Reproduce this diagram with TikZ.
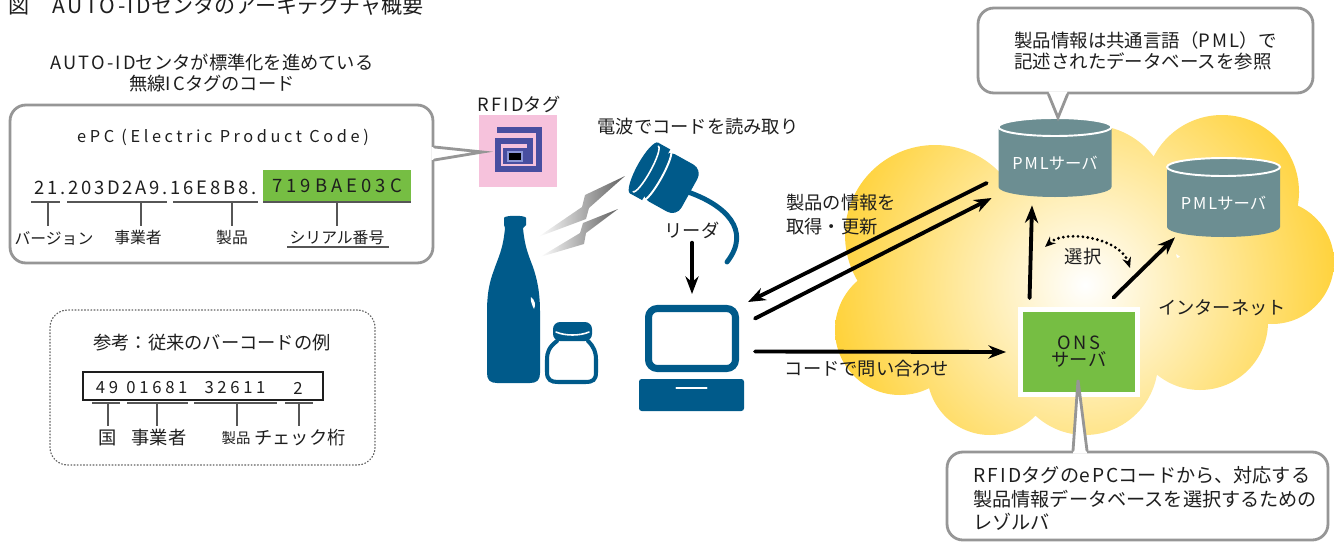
\documentclass[tikz,border=0pt]{standalone}
\usepackage{fontspec}
\setmainfont{Noto Sans CJK JP}
\usetikzlibrary{arrows.meta,calc,positioning}
\definecolor{devblue}{RGB}{0,90,138}
\definecolor{tagpink}{RGB}{246,194,220}
\definecolor{tagviolet}{RGB}{72,78,160}
\definecolor{chipedge}{RGB}{140,150,215}
\definecolor{serialgreen}{RGB}{118,190,67}
\definecolor{pmlteal}{RGB}{108,142,146}
\definecolor{netgold}{RGB}{255,197,0}
\definecolor{balloongray}{RGB}{150,150,150}
\definecolor{inkdark}{RGB}{30,30,30}
\newcommand{\lat}[1]{{\addfontfeature{LetterSpace=12}#1}}
\newcommand{\code}[1]{{\addfontfeature{LetterSpace=22}#1}}

\begin{document}
\begin{tikzpicture}[x=0.02cm,y=-0.02cm,>=Stealth,line cap=round,
  lbl/.style={font=\fontsize{10.4}{12.5}\selectfont,text=inkdark,inner sep=0pt},
  minor/.style={font=\fontsize{9}{11}\selectfont,text=inkdark,inner sep=0pt},
  balloon/.style={draw=balloongray,line width=1.6pt,fill=white,rounded corners=9pt,inner sep=0pt},
  leader/.style={draw=inkdark!75,line width=0.7pt,line cap=butt},
  flow/.style={draw=black,line width=2.2pt,-{Stealth[length=10pt,width=7.5pt]}},
  pmlfont/.style={text=white,inner sep=0pt,font=\fontsize{9.3}{11}\selectfont},
  zap/.style={left color=white,right color=black!62}]
\clip (0,0) rectangle (1334,541);

\begin{scope}
 \clip (935,235) circle (90) (900,330) circle (65) (990,372) circle (63)
  (1085,362) circle (73) (1200,322) circle (68) (1272,262) circle (62)
  (1222,192) circle (77) (1090,205) circle (80) (1060,285) circle (120);
 \shade[inner color=white,outer color=netgold] (1085,285) circle (330);
\end{scope}

\node[anchor=base west,font=\fontsize{12}{14}\selectfont,text=inkdark,inner sep=0pt]
  (title) at (8,13) {図\hspace{1.1em}\lat{AUTO-ID}センタのアーキテクチャ概要};
\node[lbl,align=center] (codehead) at (212,73)
  {\lat{AUTO-ID}センタが標準化を進めている\\無線\lat{IC}タグのコード};

\node[balloon,minimum width=8.46cm,minimum height=3.16cm] (epcbox) at (221.5,184) {};
\node[fill=tagpink,minimum width=1.56cm,minimum height=1.44cm,inner sep=0pt] (tag) at (518,151) {};
\node[lbl] (taglbl) at (519,104) {\lat{RFID}タグ};
\draw[tagviolet,line width=3.4pt,line cap=butt,line join=miter]
  (497,130) -- (539,130) -- (539,169) -- (498,169) -- (498,141) -- (530,141) -- (530,158);
\fill[tagviolet] (503,148) rectangle (533,164);
\filldraw[fill=black,draw=chipedge,line width=0.8pt] (508,152) rectangle (522,161);
\fill[white] ($(epcbox.east)+(-3,-37)$) -- ($(tag.west)+(4,1)$) -- ($(epcbox.east)+(-3,-24)$) -- cycle;
\draw[balloongray,line width=1.6pt,line join=miter]
  ($(epcbox.east)+(0,-37)$) -- ($(tag.west)+(4,1)$) -- ($(epcbox.east)+(0,-24)$);

\node[minor,font=\fontsize{9.3}{11}\selectfont] (epctitle) at (223,137) {\code{ePC (Electric Product Code)}};
\node[lbl,font=\fontsize{10.5}{12}\selectfont] (epcnum) at (145.5,188)
  {{\addfontfeature{LetterSpace=15}21.203D2A9.16E8B8.}};
\node[fill=serialgreen,minimum width=2.96cm,minimum height=0.62cm,inner sep=0pt,
  font=\fontsize{10.5}{12}\selectfont,text=inkdark] (serial) at (337,185.5) {\code{719BAE03C}};
\foreach \a/\b in {31/60,67/167,173/258,263/411} \draw[leader] (\a,202) -- (\b,202);
\foreach \t in {48,141,232,337} \draw[leader] (\t,202) -- (\t,226);
\node[minor] (verlbl) at (54,238) {バージョン};
\node[minor] (bizlbl) at (138,238) {事業者};
\node[minor] (prodlbl) at (232,238) {製品};
\node[minor] (seriallbl) at (337,238) {シリアル番号};
\draw[leader] (287,247) -- (389,247);

\node[draw=inkdark!70,line width=0.7pt,rounded corners=10pt,dash pattern=on 0.5pt off 1.3pt,
  minimum width=6.5cm,minimum height=3.1cm] (legacybox) at (212.5,387.5) {};
\node[lbl] (legacyhead) at (212,343) {参考：従来のバーコードの例};
\node[draw=inkdark,line width=0.7pt,minimum width=4.8cm,minimum height=0.56cm] (jan) at (203,386) {};
\foreach \x/\d [count=\i] in {107/49,157/01681,235/32611,298/2}
  \node[lbl,font=\fontsize{9.5}{11}\selectfont] (jan\i) at (\x,388) {\code{\d}};
\foreach \a/\b in {92/120,127/188,194/277,285/313} \draw[leader] (\a,403) -- (\b,403);
\foreach \t in {108,157,237,299} \draw[leader] (\t,403) -- (\t,426);
\node[lbl] (countrylbl) at (108,438) {国};
\node[lbl] (makerlbl) at (159,438) {事業者};
\node[lbl,font=\fontsize{8.2}{10}\selectfont] (itemlbl) at (236,438) {製品};
\node[lbl] (checklbl) at (300,438) {チェック桁};

\fill[devblue] (504,218) .. controls (504,215) and (526,215) .. (526,218) -- (526,225) -- (523,228)
  .. controls (525,250) and (530,258) .. (534,270) .. controls (538,283) and (540,295) .. (540,312)
  -- (540,373) .. controls (540,380) and (537,383) .. (530,383) -- (497,383)
  .. controls (490,383) and (487,380) .. (487,373) -- (487,312)
  .. controls (487,295) and (489,283) .. (494,270) .. controls (498,258) and (503,250) .. (505,228)
  -- (504,225) -- cycle;
\fill[white] (531,297) .. controls (535,300) and (536,305) .. (534,309)
  .. controls (532,305) and (530,300) .. (531,297);
\draw[devblue,line width=2.3pt,fill=white] (557,341) .. controls (549,347) and (547,352) .. (547,360)
  -- (547,372) .. controls (547,380) and (551,382) .. (558,382) -- (585,382)
  .. controls (593,382) and (596,380) .. (596,372) -- (596,360)
  .. controls (596,352) and (594,347) .. (588,341);
\fill[devblue,rounded corners=4pt] (553,322) rectangle (592,341);
\draw[white,line width=0.9pt] (556,332) .. controls (565,336) and (580,336) .. (589,332);

\node[lbl] (scanlbl) at (698,127) {電波でコードを読み取り};
\shade[zap] (538,237) -- (582,207) -- (585,195) -- (625,176) -- (589,208) -- (586,219) -- cycle;
\shade[zap] (540,257) -- (580,233) -- (583,223) -- (618,209) -- (586,233) -- (584,244) -- cycle;
\begin{scope}[shift={(644,168)},rotate=-29]
 \fill[devblue,rounded corners=6pt] (10,-27) rectangle (52,27);
 \fill[devblue] (0,-29) rectangle (14,29);
 \fill[devblue] (0,0) ellipse [x radius=7,y radius=29];
 \draw[white,line width=0.9pt] (2,-26) arc[start angle=-90,end angle=90,x radius=5,y radius=26];
 \draw[white,line width=1.1pt] (15,-28) arc[start angle=-90,end angle=90,x radius=5,y radius=28];
\end{scope}
\draw[devblue,line width=2.8pt] (688,192) .. controls (725,205) and (752,230) .. (727,262);

\node[lbl] (readerlbl) at (692,230) {リーダ};
\node[draw=devblue,line width=4pt,fill=white,rounded corners=5pt,minimum width=1.74cm,
  minimum height=1.2cm,inner sep=0pt] (monitor) at (692,338.5) {};
\node[fill=devblue,rounded corners=1.5pt,minimum width=2.1cm,minimum height=0.64cm,
  inner sep=0pt] (pcbase) at (691.5,395) {};
\draw[white,line width=1.3pt] ($(pcbase.center)+(-15,-7)$) -- ($(pcbase.center)+(15,-7)$);
\draw[flow] ($(readerlbl.south)+(0,4)$) -- ($(monitor.north)+(0,-11)$);

\foreach \srv/\cx/\cy in {pml1/1055/158,pml2/1223.5/198}{
  \fill[pmlteal] (\cx-56.5,\cy-31) -- (\cx-56.5,\cy+29)
    arc[start angle=180,end angle=0,x radius=56.5,y radius=10] -- (\cx+56.5,\cy-31) -- cycle;
  \draw[white,line width=1.1pt,fill=pmlteal] (\cx,\cy-31) ellipse [x radius=56.5,y radius=9];
  \node[minimum width=2.26cm,minimum height=1.6cm,inner sep=0pt,
    label={[pmlfont,yshift=-2.8pt]center:\lat{PML}サーバ}] (\srv) at (\cx,\cy) {};
}
\node[fill=serialgreen,draw=white,line width=2.8pt,minimum width=2.34cm,minimum height=1.7cm,
  inner sep=0pt,align=center,font=\fontsize{10.4}{9.6}\selectfont,text=inkdark]
  (ons) at (1079,352) {\lat{ONS}\\サーバ};

\node[lbl] (netlbl) at (1222,308) {インターネット};
\node[lbl] (sellbl) at (1083,257) {選択};
\node[lbl,anchor=west,align=left,font=\fontsize{10.4}{13.6}\selectfont] (synclbl) at (786,215)
  {製品の情報を\\取得・更新};
\node[lbl] (querylbl) at (867,369) {コードで問い合わせ};

\draw[flow] ($(pml1.west)+(-11.5,25)$) -- ($(monitor.north east)+(9,-3)$);
\draw[flow] ($(monitor.east)+(16,-20)$) -- ($(pml1.west)+(-6.5,40)$);
\draw[flow] ($(monitor.east)+(16,13)$) -- ($(ons.west)+(-12,0)$);
\draw[flow] ($(ons.north west)+(11.5,-9)$) -- ($(pml1.south)+(-23,7)$);
\draw[flow] ($(ons.north east)+(-26.5,-9.5)$) -- ($(pml2.south)+(-48.5,-1)$);
\draw[line width=1.8pt,dash pattern=on 0pt off 2.8pt,
  {Stealth[length=6pt,width=5pt]}-{Stealth[length=6pt,width=5pt]}]
  ($(sellbl)+(-38,-10)$) .. controls +(20,-18) and +(-10,-30) .. ($(sellbl)+(47,11)$);

\node[balloon,minimum width=6.7cm,minimum height=1.7cm,align=left,
  font=\fontsize{10.5}{12}\selectfont,text=inkdark] (pmlnote) at (1145.5,50.5)
  {製品情報は共通言語（\lat{PML}）で\\記述されたデータベースを参照};
\fill[white] ($(pmlnote.south)+(-97,-3)$) -- ($(pml1.north)+(3,0)$) -- ($(pmlnote.south)+(-78,-3)$) -- cycle;
\draw[balloongray,line width=1.6pt,line join=miter]
  ($(pmlnote.south)+(-97,0)$) -- ($(pml1.north)+(3,0)$) -- ($(pmlnote.south)+(-78,0)$);

\node[balloon,minimum width=7.62cm,minimum height=1.76cm] (onsnote) at (1137.5,496) {};
\node[lbl,anchor=west,align=left,font=\fontsize{10.9}{13.2}\selectfont] (onsnotetext) at (973,498.5)
  {\lat{RFID}タグの\lat{ePC}コードから、対応する\\製品情報データベースを選択するための\\レゾルバ};
\fill[white] ($(onsnote.north)+(-64.5,3)$) -- ($(ons.center)+(-1,28)$) -- ($(onsnote.north)+(-50.5,3)$) -- cycle;
\draw[balloongray,line width=1.6pt,line join=miter]
  ($(onsnote.north)+(-64.5,0)$) -- ($(ons.center)+(-1,28)$) -- ($(onsnote.north)+(-50.5,0)$);
\end{tikzpicture}
\end{document}
